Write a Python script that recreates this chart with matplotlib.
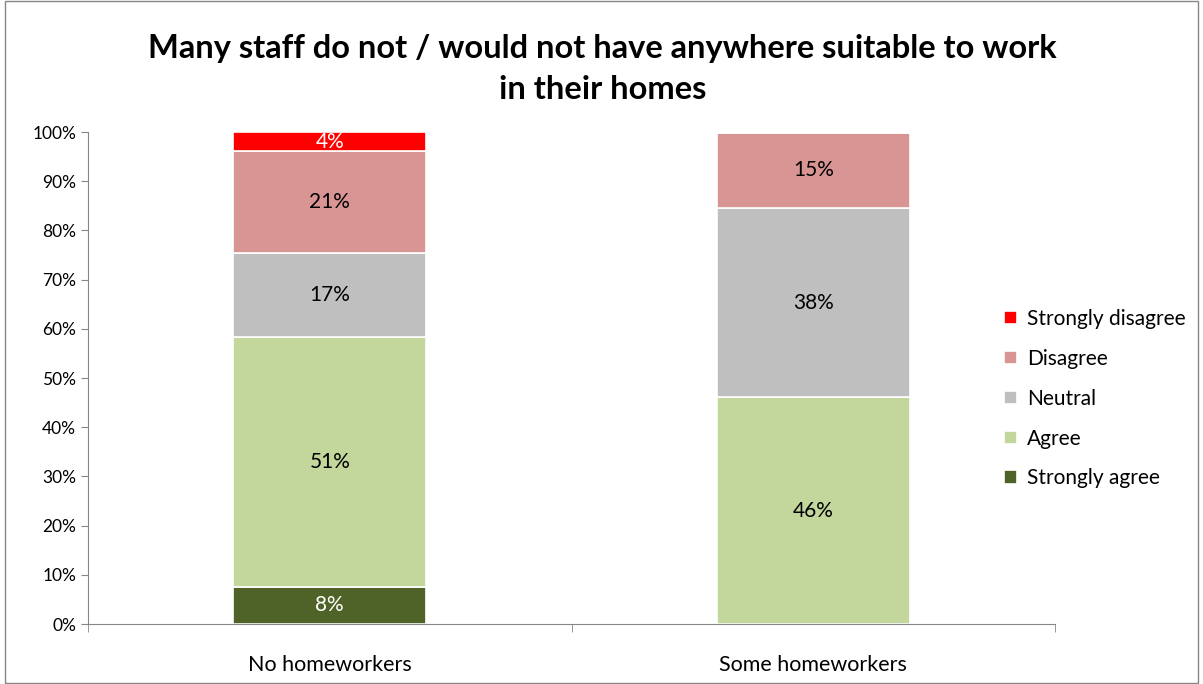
import numpy as np
import matplotlib
matplotlib.use("Agg")
import matplotlib.pyplot as plt
from matplotlib.patches import Rectangle

plt.rcParams['font.family'] = ['Lato', 'DejaVu Sans']

groups = ["No homeworkers", "Some homeworkers"]
# stacked from the bottom up
responses = ["Strongly agree", "Agree", "Neutral", "Disagree", "Strongly disagree"]
shares = {
    "Strongly agree":    [7.6, 0.0],
    "Agree":             [50.8, 46.1],
    "Neutral":           [17.0, 38.4],
    "Disagree":          [20.7, 15.4],
    "Strongly disagree": [3.9, 0.0],
}
colors = {
    "Strongly agree":    "#4F6228",
    "Agree":             "#C3D69B",
    "Neutral":           "#BFBFBF",
    "Disagree":          "#D99594",
    "Strongly disagree": "#FF0000",
}
label_colors = {
    "Strongly agree": "white",
    "Agree": "black",
    "Neutral": "black",
    "Disagree": "black",
    "Strongly disagree": "white",
}

fig = plt.figure(figsize=(12.03, 6.84), dpi=100)
ax = fig.add_axes([0.0732, 0.0877, 0.8038, 0.7193])

x = np.arange(len(groups))
bottom = np.zeros(len(groups))
handles = []
for r in responses:
    vals = np.array(shares[r])
    bars = ax.bar(x, vals, width=0.4, bottom=bottom, color=colors[r],
                  edgecolor="white", linewidth=1.2, label=r)
    handles.append(bars)
    for xi, v, b in zip(x, vals, bottom):
        if v > 0:
            ax.text(xi, b + v / 2, f"{v:.0f}%", ha="center", va="center",
                    fontsize=15, color=label_colors[r])
    bottom += vals

ax.set_xlim(-0.5, 1.5)
ax.set_ylim(0, 100)
ax.set_yticks(np.arange(0, 101, 10))
ax.set_yticklabels([f"{t}%" for t in range(0, 101, 10)], fontsize=12.5)
ax.set_xticks(x)
ax.set_xticklabels(groups, fontsize=15.5)
ax.set_xticks([-0.5, 0.5, 1.5], minor=True)
ax.tick_params(axis="x", which="major", length=0, pad=22)
ax.tick_params(axis="x", which="minor", length=6, color="#868686")
ax.tick_params(axis="y", length=5, color="#868686")

for s in ["top", "right"]:
    ax.spines[s].set_visible(False)
for s in ["left", "bottom"]:
    ax.spines[s].set_color("#868686")

leg = fig.legend(handles[::-1], responses[::-1], loc="center left",
                 bbox_to_anchor=(0.826, 0.417), bbox_transform=fig.transFigure,
                 frameon=False, fontsize=15, borderpad=0,
                 handlelength=0.6, handleheight=0.6, labelspacing=0.95,
                 handletextpad=0.5)

fig.suptitle("Many staff do not / would not have anywhere suitable to work\nin their homes",
             fontsize=23.5, fontweight="bold", y=0.950, va="top",
             linespacing=1.5, x=0.501)

# chart border
fig.patches.append(Rectangle((0.004, 0.002), 0.992, 0.996, transform=fig.transFigure,
                             fill=False, edgecolor="#868686", linewidth=1))

fig.savefig("out.png", dpi=100)
